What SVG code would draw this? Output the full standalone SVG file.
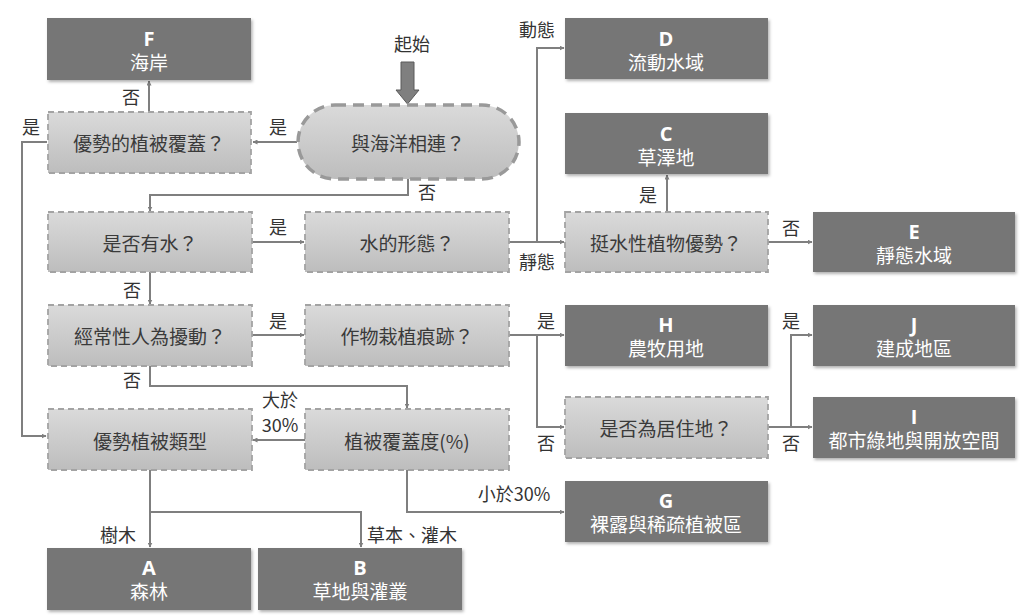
<svg xmlns="http://www.w3.org/2000/svg" width="1024" height="615" viewBox="0 0 1024 615">
<defs>
<linearGradient id="g" x1="0" y1="0" x2="0" y2="1">
<stop offset="0" stop-color="#dadada"/>
<stop offset="1" stop-color="#bdbdbd"/>
</linearGradient>
<filter id="sh" x="-5%" y="-10%" width="115%" height="130%">
<feDropShadow dx="1.5" dy="2" stdDeviation="1.5" flood-color="#000" flood-opacity="0.3"/>
</filter>
<marker id="ar" viewBox="0 0 10 10" refX="9" refY="5" markerWidth="5" markerHeight="5" orient="auto" markerUnits="userSpaceOnUse">
<path d="M0,0 L10,5 L0,10 z" fill="#7f7f7f"/>
</marker>
</defs>
<style>
.res rect{fill:#767676;filter:url(#sh)}
.res text{fill:#fff;font-family:"Open Sans","Noto Sans CJK TC",sans-serif;font-size:19px;text-anchor:middle}
.res .l{font-weight:bold;font-size:20px}
.dec rect{fill:url(#g);stroke:#a3a3a3;stroke-width:1.8;stroke-dasharray:6 4}
.dec text,.pill text{fill:#3a3a3a;font-family:"Noto Sans CJK TC",sans-serif;font-size:19px;text-anchor:middle;dominant-baseline:central}
.pill rect{fill:url(#g);stroke:#999;stroke-width:3.5;stroke-dasharray:11 7}
.cn path{fill:none;stroke:#7f7f7f;stroke-width:2}
.lb{fill:#333;font-family:"Noto Sans CJK TC","Open Sans",sans-serif;font-size:18px;text-anchor:middle}
</style>

<g class="cn">
<path d="M297,142 H253" marker-end="url(#ar)"/>
<path d="M149,112 V81" marker-end="url(#ar)"/>
<path d="M47,142 H22 V436 H46" marker-end="url(#ar)"/>
<path d="M408,179 V195 H150 V211" marker-end="url(#ar)"/>
<path d="M252,242 H304" marker-end="url(#ar)"/>
<path d="M150,272 V304" marker-end="url(#ar)"/>
<path d="M509,242 H564" marker-end="url(#ar)"/>
<path d="M537,242 V48 H564" marker-end="url(#ar)"/>
<path d="M667,212 V175" marker-end="url(#ar)"/>
<path d="M768,242 H812" marker-end="url(#ar)"/>
<path d="M252,335 H304" marker-end="url(#ar)"/>
<path d="M150,366 V386 H407 V408" marker-end="url(#ar)"/>
<path d="M509,335 H564" marker-end="url(#ar)"/>
<path d="M537,335 V427 H564" marker-end="url(#ar)"/>
<path d="M768,427 H812" marker-end="url(#ar)"/>
<path d="M791,427 V335 H812" marker-end="url(#ar)"/>
<path d="M305,440 H253" marker-end="url(#ar)"/>
<path d="M407,470 V512 H564" marker-end="url(#ar)"/>
<path d="M150,470 V547" marker-end="url(#ar)"/>
<path d="M150,512 H361 V547" marker-end="url(#ar)"/>
</g>

<g id="start">
<text class="lb" x="412" y="51">起始</text>
<path d="M401,62 H414 V90 H419 L407.5,104 L396,90 H401 Z" fill="#7f7f7f" stroke="#5a5a5a" stroke-width="1"/>
</g>

<g id="sea" class="pill"><rect x="298" y="105" width="221" height="74" rx="37"/><text x="408" y="142">與海洋相連？</text></g>
<g id="q1" class="dec"><rect x="48" y="112" width="203" height="61"/><text x="149" y="142">優勢的植被覆蓋？</text></g>
<g id="q2" class="dec"><rect x="48" y="212" width="204" height="60"/><text x="150" y="242">是否有水？</text></g>
<g id="q3" class="dec"><rect x="305" y="212" width="204" height="60"/><text x="407" y="242">水的形態？</text></g>
<g id="q4" class="dec"><rect x="565" y="212" width="203" height="60"/><text x="666" y="242">挺水性植物優勢？</text></g>
<g id="q5" class="dec"><rect x="48" y="305" width="204" height="61"/><text x="150" y="335">經常性人為擾動？</text></g>
<g id="q6" class="dec"><rect x="305" y="305" width="204" height="61"/><text x="407" y="335">作物栽植痕跡？</text></g>
<g id="q7" class="dec"><rect x="565" y="397" width="203" height="61"/><text x="666" y="427">是否為居住地？</text></g>
<g id="q8" class="dec"><rect x="48" y="409" width="204" height="61"/><text x="150" y="440">優勢植被類型</text></g>
<g id="q9" class="dec"><rect x="305" y="409" width="204" height="61"/><text x="407" y="440">植被覆蓋度(%)</text></g>

<g id="F" class="res"><rect x="47" y="18" width="204" height="62"/><text class="l" x="149" y="46">F</text><text x="149" y="70">海岸</text></g>
<g id="D" class="res"><rect x="565" y="18" width="203" height="61"/><text class="l" x="666" y="46">D</text><text x="666" y="70">流動水域</text></g>
<g id="C" class="res"><rect x="565" y="113" width="203" height="61"/><text class="l" x="666" y="141">C</text><text x="666" y="165">草澤地</text></g>
<g id="E" class="res"><rect x="813" y="212" width="202" height="60"/><text class="l" x="914" y="239">E</text><text x="914" y="263">靜態水域</text></g>
<g id="H" class="res"><rect x="565" y="305" width="203" height="61"/><text class="l" x="666" y="332">H</text><text x="666" y="356">農牧用地</text></g>
<g id="J" class="res"><rect x="813" y="305" width="202" height="61"/><text class="l" x="914" y="332">J</text><text x="914" y="356">建成地區</text></g>
<g id="I" class="res"><rect x="813" y="397" width="202" height="61"/><text class="l" x="914" y="424">I</text><text x="914" y="448">都市綠地與開放空間</text></g>
<g id="G" class="res"><rect x="565" y="481" width="203" height="61"/><text class="l" x="666" y="508">G</text><text x="666" y="532">裸露與稀疏植被區</text></g>
<g id="A" class="res"><rect x="47" y="548" width="204" height="62"/><text class="l" x="149" y="575">A</text><text x="149" y="599">森林</text></g>
<g id="B" class="res"><rect x="258" y="548" width="204" height="62"/><text class="l" x="360" y="575">B</text><text x="360" y="599">草地與灌叢</text></g>

<g id="labels">
<text class="lb" x="278" y="134">是</text>
<text class="lb" x="131" y="104">否</text>
<text class="lb" x="31" y="134">是</text>
<text class="lb" x="427" y="199">否</text>
<text class="lb" x="278" y="234">是</text>
<text class="lb" x="132" y="297">否</text>
<text class="lb" x="537" y="37">動態</text>
<text class="lb" x="537" y="269">靜態</text>
<text class="lb" x="648" y="202">是</text>
<text class="lb" x="791" y="235">否</text>
<text class="lb" x="278" y="328">是</text>
<text class="lb" x="132" y="387">否</text>
<text class="lb" x="546" y="328">是</text>
<text class="lb" x="546" y="450">否</text>
<text class="lb" x="791" y="328">是</text>
<text class="lb" x="791" y="450">否</text>
<text class="lb" x="280" y="407">大於</text>
<text class="lb" x="280" y="432">30%</text>
<text class="lb" x="514" y="501">小於30%</text>
<text class="lb" x="118" y="542">樹木</text>
<text class="lb" x="412" y="542">草本、灌木</text>
</g>
</svg>
